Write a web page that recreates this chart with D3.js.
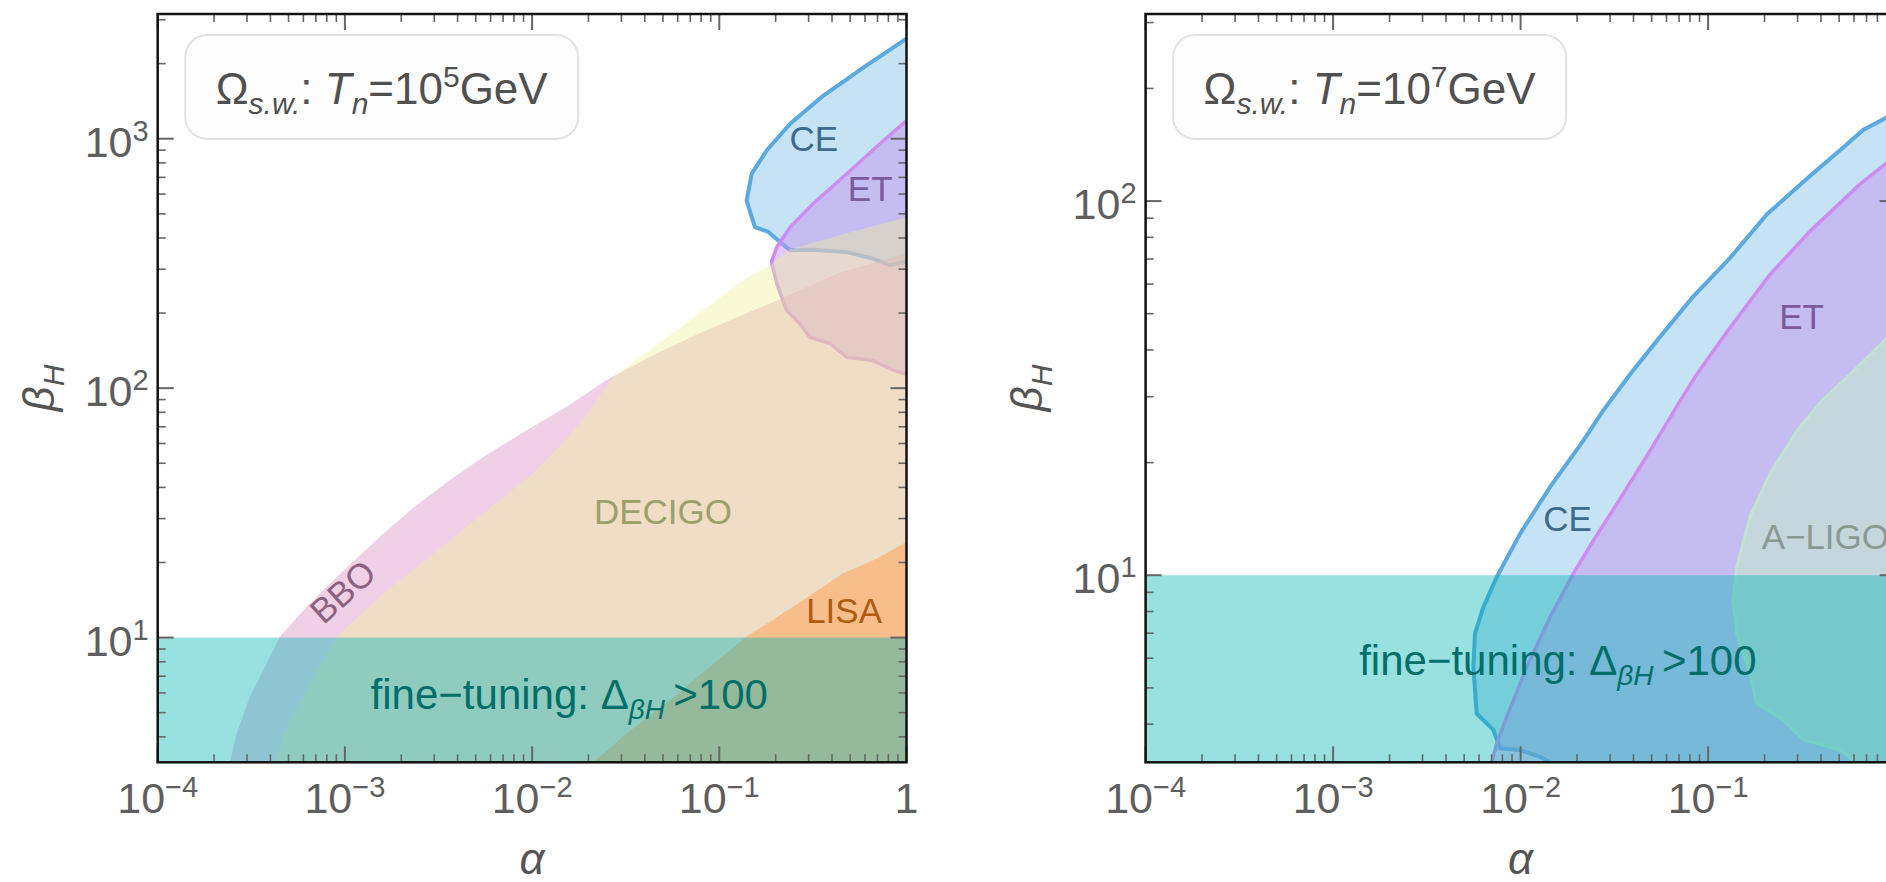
<!DOCTYPE html>
<html>
<head>
<meta charset="utf-8">
<script src="https://cdn.jsdelivr.net/npm/d3@7"></script>
<style>
html, body { margin: 0; padding: 0; background: #fff; overflow: hidden; }
</style>
</head>
<body>
<div id="chart"></div>
<script>
// detector reach as [alpha, beta_H] pairs
var left_ce = [[1.0, 2518], [0.612, 1968], [0.360, 1490], [0.239, 1148], [0.179, 897], [0.149, 724],
    [0.140, 566], [0.149, 485], [0.155, 442], [0.183, 423], [0.211, 385], [0.239, 357], [0.318, 359],
    [0.480, 351], [0.665, 330], [0.817, 311], [1.0, 321]];
var left_et = [[1.0, 1183], [0.721, 955], [0.480, 724], [0.318, 550], [0.239, 442], [0.203, 368],
    [0.190, 321], [0.203, 262], [0.229, 205], [0.270, 181], [0.305, 160], [0.390, 151], [0.480, 133],
    [0.665, 129], [0.851, 118], [1.0, 114]];
var left_bbo = [[2.43e-4, 3.16], [2.64e-4, 4.13], [3.11e-4, 5.80], [4.50e-4, 10.1], [6.25e-4, 13.3],
    [9.04e-4, 17.5], [1.60e-3, 26.1], [2.42e-3, 34.0], [3.64e-3, 42.8], [5.48e-3, 53.0], [9.35e-3, 67.8],
    [1.53e-2, 84.2], [2.51e-2, 108], [4.65e-2, 138], [8.59e-2, 171], [0.194, 221], [0.442, 291], [1.0, 347]];
var left_decigo = [[4.24e-4, 3.16], [4.69e-4, 4.13], [6.25e-4, 6.16], [9.04e-4, 10.1], [1.60e-3, 15.0],
    [2.96e-3, 21.7], [5.48e-3, 31.5], [1.01e-2, 45.5], [1.59e-2, 64.7], [2.04e-2, 81.5], [2.64e-2, 109],
    [3.77e-2, 133], [5.66e-2, 166], [8.59e-2, 211], [0.141, 278], [0.187, 311], [0.239, 360],
    [0.499, 422], [1.0, 484]];
var left_lisa = [[2.12e-2, 3.16], [3.20e-2, 4.13], [5.46e-2, 5.62], [8.91e-2, 7.64], [0.140, 10.1],
    [0.248, 13.3], [0.459, 18.1], [0.693, 20.7], [1.0, 24.2]];

var right_ce = [[1.0, 172], [0.889, 167], [0.673, 155], [0.526, 139], [0.358, 118], [0.206, 92.2],
    [0.131, 70.5], [0.0820, 55.1], [0.0532, 42.3], [0.0383, 34.4], [0.0275, 27.5], [0.0216, 22.9],
    [0.01435, 17.2], [9.93e-3, 12.9], [7.46e-3, 9.89], [6.33e-3, 8.22], [5.71e-3, 6.98], [5.60e-3, 5.69],
    [5.83e-3, 4.27], [7.15e-3, 3.86], [7.76e-3, 3.45], [9.93e-3, 3.41], [1.27e-2, 3.27], [1.44e-2, 3.16]];
var right_et = [[1.0, 132], [0.889, 126], [0.646, 111], [0.349, 83.0], [0.214, 63.7], [0.131, 45.9],
    [0.0869, 34.4], [0.0708, 29.2], [0.0490, 21.5], [0.0326, 15.5], [0.0245, 12.4], [0.0191, 10.1],
    [0.01435, 7.73], [0.0108, 5.69], [8.44e-3, 4.19], [7.46e-3, 3.55], [7.02e-3, 3.16]];
var right_aligo = [[1.0, 45.2], [0.889, 42.8], [0.571, 34.4], [0.403, 29.2], [0.297, 24.3], [0.214, 18.7],
    [0.167, 14.3], [0.142, 10.5], [0.136, 8.57], [0.142, 6.98], [0.167, 5.46], [0.181, 4.54],
    [0.252, 4.10], [0.322, 3.63], [0.506, 3.41], [0.610, 3.16]];

// fine-tuning band: Delta_beta > 100 below beta_H = 10
var fineTuningBeta = [1, 10];
var fineTuningLabelAt = [0.0158, 5.9];

// region labels [text, alpha, beta]
var left_labels = [["CE", 0.32, 1000], ["ET", 0.64, 635], ["DECIGO", 0.05, 32], ["LISA", 0.464, 12.8],
    ["BBO", 9.7e-4, 15.3]];
var right_labels = [["CE", 0.0178, 14.2], ["ET", 0.315, 49.1], ["A\u2212LIGO", 0.422, 12.7]];

var xTickLabels = [[1e-4, "10", "\u22124"], [1e-3, "10", "\u22123"], [1e-2, "10", "\u22122"],
    [1e-1, "10", "\u22121"], [1, "1", ""]];
var left_yTickLabels = [[10, "10", "1"], [100, "10", "2"], [1000, "10", "3"]];
var right_yTickLabels = [[10, "10", "1"], [100, "10", "2"]];
var left_Tn = "5";
var right_Tn = "7";

var fontFam = "'Liberation Sans', Arial, Helvetica, sans-serif";
var labelColor = { "CE": "#3e6a8e", "ET": "#7b5a9b", "DECIGO": "#9ca06a", "LISA": "#b05c10",
    "BBO": "#8c6080", "A\u2212LIGO": "#8a9a92" };

var W = 1886, H = 882;
var svg = d3.select("#chart")
    .append("svg")
    .attr("width", W)
    .attr("height", H);

function closeRegion(pts) {
    var a = pts[0], b = pts[pts.length - 1];
    var out = pts.slice();
    if (b[1] < 3.2) out.push([b[0], 2.5]); else out.push([1.3, b[1]]);
    out.push([1.3, 2.5]);
    if (a[1] < 3.2) out.push([a[0], 2.5]); else out.push([1.3, a[1]]);
    return out;
}

// parts: [text, kind] with kind n | i | sub | sup
function richText(sel, parts, size, small) {
    var shift = 0;
    parts.forEach(function(p) {
        var target = 0;
        if (p[1] === "sub") target = Math.round(small * 0.34);
        if (p[1] === "sup") target = -Math.round(small * 0.55);
        var t = sel.append("tspan")
            .attr("dy", target - shift)
            .style("font-size", (p[1] === "sub" || p[1] === "sup" ? small : size) + "px")
            .text(p[0]);
        if (p[1] === "i" || p[1] === "sub") t.style("font-style", "italic");
        shift = target;
    });
}

function drawPanel(p) {
    var x = d3.scaleLog().domain([1e-4, 1]).range([p.left, p.right]);
    var y = d3.scaleLog().domain(p.yDomain).range([p.bottom, p.top]);
    var line = d3.line().x(function(d) { return x(d[0]); }).y(function(d) { return y(d[1]); });

    svg.append("defs")
      .append("clipPath")
      .attr("id", "clip-" + p.id)
      .append("rect")
      .attr("x", p.left)
      .attr("y", p.top)
      .attr("width", p.right - p.left)
      .attr("height", p.bottom - p.top);

    var area = svg.append("g").attr("clip-path", "url(#clip-" + p.id + ")");

    p.regions.forEach(function(r) {
        area.append("path")
          .attr("d", line(closeRegion(r.data)) + "Z")
          .attr("fill", r.fill)
          .attr("fill-opacity", r.opacity)
          .attr("stroke", "none");
        if (r.stroke) {
            area.append("path")
              .attr("d", line(r.data))
              .attr("fill", "none")
              .attr("stroke", r.stroke)
              .attr("stroke-width", r.sw)
              .attr("stroke-linejoin", "round");
        }
    });

    area.append("rect")
      .attr("x", x(1e-4))
      .attr("width", x(1) - x(1e-4))
      .attr("y", y(fineTuningBeta[1]))
      .attr("height", y(fineTuningBeta[0]) - y(fineTuningBeta[1]))
      .attr("fill", "rgb(0,180,180)")
      .attr("fill-opacity", 0.4);

    // region labels
    var labelsG = svg.append("g");
    p.labels.forEach(function(l) {
        var t = labelsG.append("text")
          .attr("x", x(l[1]))
          .attr("y", y(l[2]))
          .attr("dy", "0.36em")
          .attr("text-anchor", "middle")
          .attr("fill", labelColor[l[0]])
          .attr("font-family", fontFam)
          .style("font-size", "35px")
          .text(l[0]);
        if (l[0] === "BBO") {
            t.attr("transform", "rotate(-42 " + x(l[1]) + " " + y(l[2]) + ")");
        }
    });

    var ft = labelsG.append("text")
      .attr("x", x(fineTuningLabelAt[0]))
      .attr("y", y(fineTuningLabelAt[1]) + 14)
      .attr("text-anchor", "middle")
      .attr("fill", "#006e69")
      .attr("font-family", fontFam);
    richText(ft, [["fine\u2212tuning: \u0394", "n"], ["\u03b2", "sub"], ["H", "sub"], ["\u2009>100", "n"]], 42, 28);

    // frame ticks, all inward
    var tickColor = "#666";
    var ticksG = svg.append("g");
    x.ticks().forEach(function(v) {
        var major = Math.abs(Math.log10(v) - Math.round(Math.log10(v))) < 1e-6;
        var len = major ? 16 : 8;
        ticksG.append("line")
          .attr("x1", x(v)).attr("x2", x(v))
          .attr("y1", p.bottom).attr("y2", p.bottom - len)
          .attr("stroke", tickColor).attr("stroke-width", major ? 2 : 1.6);
        ticksG.append("line")
          .attr("x1", x(v)).attr("x2", x(v))
          .attr("y1", p.top).attr("y2", p.top + len)
          .attr("stroke", tickColor).attr("stroke-width", major ? 2 : 1.6);
    });
    y.ticks().forEach(function(v) {
        var major = Math.abs(Math.log10(v) - Math.round(Math.log10(v))) < 1e-6;
        var len = major ? 16 : 8;
        ticksG.append("line")
          .attr("x1", p.left).attr("x2", p.left + len)
          .attr("y1", y(v)).attr("y2", y(v))
          .attr("stroke", tickColor).attr("stroke-width", major ? 2 : 1.6);
        ticksG.append("line")
          .attr("x1", p.right).attr("x2", p.right - len)
          .attr("y1", y(v)).attr("y2", y(v))
          .attr("stroke", tickColor).attr("stroke-width", major ? 2 : 1.6);
    });

    svg.append("rect")
      .attr("x", p.left)
      .attr("y", p.top)
      .attr("width", p.right - p.left)
      .attr("height", p.bottom - p.top)
      .attr("fill", "none")
      .attr("stroke", "#111")
      .attr("stroke-width", 2.5);

    // tick labels (those past the page edge are not shown)
    xTickLabels.forEach(function(tl) {
        if (x(tl[0]) > W - 4) return;
        var t = svg.append("text")
          .attr("x", x(tl[0]))
          .attr("y", p.bottom + 51)
          .attr("text-anchor", "middle")
          .attr("fill", "#5e5e5e")
          .attr("font-family", fontFam);
        var parts = [[tl[1], "n"]];
        if (tl[2]) parts.push([tl[2], "sup"]);
        richText(t, parts, 43, 29);
    });
    p.yTickLabels.forEach(function(tl) {
        var t = svg.append("text")
          .attr("x", p.left - 9)
          .attr("y", y(tl[0]) + 18)
          .attr("text-anchor", "end")
          .attr("fill", "#5e5e5e")
          .attr("font-family", fontFam);
        richText(t, [[tl[1], "n"], [tl[2], "sup"]], 43, 29);
    });

    // axis titles
    svg.append("text")
      .attr("x", (p.left + p.right) / 2)
      .attr("y", 874)
      .attr("text-anchor", "middle")
      .attr("fill", "#555")
      .attr("font-family", fontFam)
      .style("font-style", "italic")
      .style("font-size", "44px")
      .text("\u03b1");

    var yt = svg.append("text")
      .attr("transform", "translate(" + (p.left - 104) + " 388) rotate(-90)")
      .attr("text-anchor", "middle")
      .attr("fill", "#555")
      .attr("font-family", fontFam);
    richText(yt, [["\u03b2", "i"], ["H", "sub"]], 44, 30);

    // legend box
    svg.append("rect")
      .attr("x", p.left + 27.5)
      .attr("y", 35)
      .attr("width", 393)
      .attr("height", 104)
      .attr("rx", 22)
      .attr("ry", 22)
      .attr("fill", "#fdfdfd")
      .attr("stroke", "#e2e2e2")
      .attr("stroke-width", 2);

    var lg = svg.append("text")
      .attr("x", p.left + 27.5 + 196.5)
      .attr("y", 103.5)
      .attr("text-anchor", "middle")
      .attr("fill", "#505050")
      .attr("font-family", fontFam);
    richText(lg, [["\u03a9", "n"], ["s.w.", "sub"], [": ", "n"], ["T", "i"], ["n", "sub"],
        ["=10", "n"], [p.tn, "sup"], ["GeV", "n"]], 44, 30);
}

drawPanel({
    id: "left",
    left: 157.7, right: 906.5, top: 14, bottom: 762.3,
    yDomain: [Math.pow(10, 0.5), Math.pow(10, 3.5)],
    yTickLabels: left_yTickLabels,
    tn: left_Tn,
    labels: left_labels,
    regions: [
        { data: left_ce, fill: "rgb(93,173,226)", opacity: 0.35, stroke: "#5aa9e0", sw: 4 },
        { data: left_et, fill: "rgb(195,150,240)", opacity: 0.5, stroke: "#cf8cf0", sw: 3.5 },
        { data: left_bbo, fill: "rgb(220,150,200)", opacity: 0.45 },
        { data: left_decigo, fill: "rgb(240,240,150)", opacity: 0.4 },
        { data: left_lisa, fill: "rgb(255,160,80)", opacity: 0.5 }
    ]
});

drawPanel({
    id: "right",
    left: 1145.6, right: 1895.6, top: 14, bottom: 762.3,
    yDomain: [Math.pow(10, 0.5), Math.pow(10, 2.5)],
    yTickLabels: right_yTickLabels,
    tn: right_Tn,
    labels: right_labels,
    regions: [
        { data: right_ce, fill: "rgb(93,173,226)", opacity: 0.35, stroke: "#5aa9e0", sw: 4 },
        { data: right_et, fill: "rgb(195,150,240)", opacity: 0.5, stroke: "#cf8cf0", sw: 3.5 },
        { data: right_aligo, fill: "rgb(200,240,200)", opacity: 0.5, stroke: "#bfe5cc", sw: 3 }
    ]
});
</script>
</body>
</html>
